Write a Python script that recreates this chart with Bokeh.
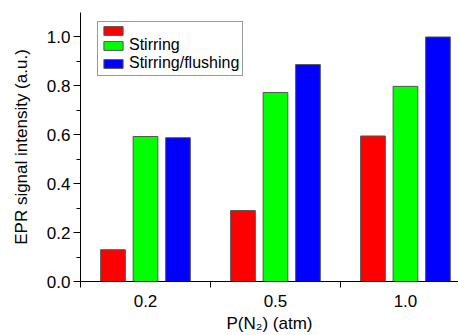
import numpy as np
from bokeh.plotting import figure
from bokeh.models import Range1d, FixedTicker, Legend, LegendItem, ColumnDataSource, PrintfTickFormatter
from bokeh.embed import file_html
from bokeh.resources import INLINE

# ---- data ----
categories = ["0.2", "0.5", "1.0"]
series_names = ["", "Stirring", "Stirring/flushing"]
series_colors = ["#ff0000", "#00ff00", "#0000ff"]
values_none = [0.13, 0.29, 0.595]
values_stirring = [0.593, 0.773, 0.798]
values_flushing = [0.588, 0.887, 1.0]
series_values = [values_none, values_stirring, values_flushing]
y_ticks = [0.0, 0.2, 0.4, 0.6, 0.8, 1.0]
y_minor = [0.1, 0.3, 0.5, 0.7, 0.9]

FONT = "Liberation Sans"

p = figure(width=458, height=335, output_backend="svg", toolbar_location=None,
           x_range=Range1d(0, 2.908), y_range=Range1d(0, 1.1),
           min_border_left=80, min_border_right=0, min_border_top=12, min_border_bottom=54)
p.outline_line_color = None
p.xgrid.visible = False
p.ygrid.visible = False
p.background_fill_color = "white"
p.border_fill_color = "white"

centers = np.arange(len(categories)) + 0.5
offsets = [-0.25, 0.0, 0.25]
renderers = []
for name, color, vals, off in zip(series_names, series_colors, series_values, offsets):
    src = ColumnDataSource(dict(x=centers + off, top=vals))
    r = p.vbar(x="x", top="top", bottom=0, width=0.19, source=src,
               fill_color=color, line_color="#555555", line_width=1)
    renderers.append(r)

# x axis
xa = p.xaxis[0]
xa.ticker = FixedTicker(ticks=list(centers), minor_ticks=[0, 1, 2])
xa.major_label_overrides = {float(c): lab for c, lab in zip(centers, categories)}
xa.major_tick_out = 0
xa.major_tick_in = 0
xa.minor_tick_out = 6
xa.minor_tick_in = 0
xa.major_label_standoff = 7
xa.axis_label = "P(N\u2082) (atm)"
xa.axis_label_standoff = 4

# y axis
ya = p.yaxis[0]
ya.ticker = FixedTicker(ticks=y_ticks, minor_ticks=y_minor)
ya.formatter = PrintfTickFormatter(format="%.1f")
ya.major_tick_out = 7
ya.major_tick_in = 0
ya.minor_tick_out = 4
ya.minor_tick_in = 0
ya.major_label_standoff = 3
ya.axis_label = "EPR signal intensity (a.u.)"
ya.axis_label_standoff = 13

for ax in (xa, ya):
    ax.axis_line_color = "black"
    ax.major_tick_line_color = "black"
    ax.minor_tick_line_color = "black"
    ax.major_label_text_font = FONT
    ax.major_label_text_font_size = "17px"
    ax.major_label_text_color = "black"
    ax.axis_label_text_font = FONT
    ax.axis_label_text_font_size = "17px"
    ax.axis_label_text_font_style = "normal"
    ax.axis_label_text_color = "black"

items = [LegendItem(label=n, renderers=[r]) for n, r in zip(series_names, renderers)]
legend = Legend(items=items, location=(17, 205))
legend.padding = 3
legend.spacing = 0
legend.margin = 0
legend.glyph_width = 24
legend.glyph_height = 11
legend.label_standoff = 4
legend.label_text_font = FONT
legend.label_text_font_size = "16px"
legend.label_text_color = "black"
legend.border_line_color = "#333333"
legend.border_line_width = 1
legend.background_fill_color = "white"
legend.background_fill_alpha = 1
p.add_layout(legend, "center")

open("out.html", "w").write(file_html(p, INLINE))
